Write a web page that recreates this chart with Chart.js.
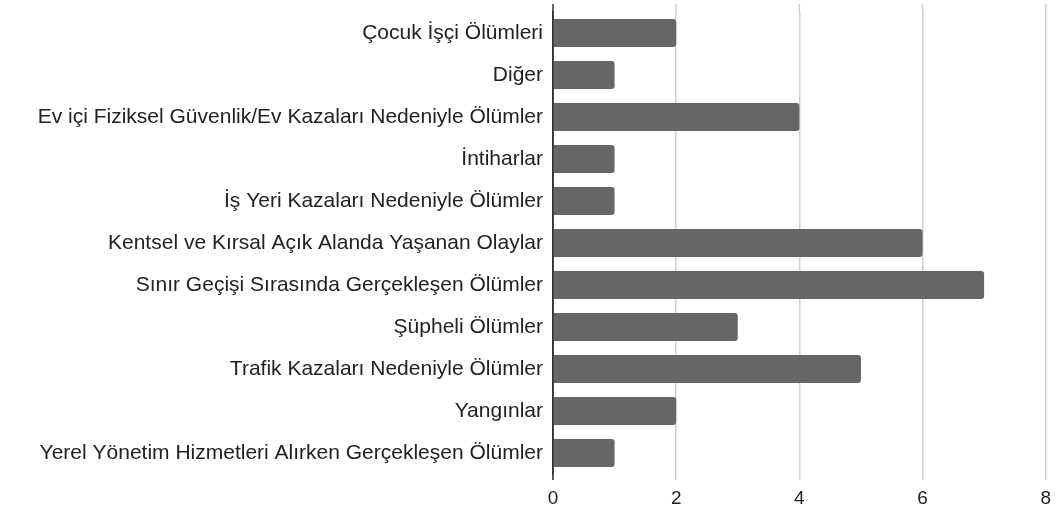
<!DOCTYPE html>
<html>
<head>
<meta charset="utf-8">
<script src="https://cdn.jsdelivr.net/npm/chart.js@4/dist/chart.umd.min.js"></script>
<style>
  html, body { margin: 0; padding: 0; background: #fff; }
  #wrap { width: 1058px; height: 508px; position: relative; }
</style>
</head>
<body>
<div id="wrap"><canvas id="c"></canvas></div>
<script>
const categories = [
  "Çocuk İşçi Ölümleri",
  "Diğer",
  "Ev içi Fiziksel Güvenlik/Ev Kazaları Nedeniyle Ölümler",
  "İntiharlar",
  "İş Yeri Kazaları Nedeniyle Ölümler",
  "Kentsel ve Kırsal Açık Alanda Yaşanan Olaylar",
  "Sınır Geçişi Sırasında Gerçekleşen Ölümler",
  "Şüpheli Ölümler",
  "Trafik Kazaları Nedeniyle Ölümler",
  "Yangınlar",
  "Yerel Yönetim Hizmetleri Alırken Gerçekleşen Ölümler"
];
const values = [2, 1, 4, 1, 1, 6, 7, 3, 5, 2, 1];
const xTicks = [0, 2, 4, 6, 8];

const FONT = "'Liberation Sans', Arial, sans-serif";
const GRID = '#d0d0d0';

const extendGrid = {
  id: 'extendGrid',
  beforeDatasetsDraw(chart) {
    const { ctx, chartArea, scales } = chart;
    const ext = 8;
    ctx.save();
    ctx.lineWidth = 1.5;
    ctx.strokeStyle = GRID;
    xTicks.forEach(v => {
      if (v === 0) return;
      const x = scales.x.getPixelForValue(v);
      ctx.beginPath();
      ctx.moveTo(x, chartArea.top - ext);
      ctx.lineTo(x, chartArea.top);
      ctx.stroke();
    });
    ctx.restore();
  },
  afterDraw(chart) {
    const { ctx, chartArea, scales } = chart;
    const x = scales.x.getPixelForValue(0);
    ctx.save();
    ctx.lineWidth = 1.5;
    ctx.strokeStyle = '#333333';
    ctx.beginPath();
    ctx.moveTo(x, chartArea.top - 8);
    ctx.lineTo(x, chartArea.bottom + 6);
    ctx.stroke();
    ctx.restore();
  }
};

new Chart(document.getElementById('c'), {
  type: 'bar',
  data: {
    labels: categories,
    datasets: [{
      data: values,
      backgroundColor: '#666666',
      borderRadius: 3,
      borderSkipped: 'start',
      barPercentage: 0.667,
      categoryPercentage: 1.0
    }]
  },
  options: {
    indexAxis: 'y',
    responsive: true,
    maintainAspectRatio: false,
    animation: false,
    layout: { padding: { top: 12, right: 8, left: 10, bottom: 0 } },
    plugins: { legend: { display: false }, tooltip: { enabled: false } },
    scales: {
      x: {
        type: 'linear',
        min: 0,
        max: 8,
        afterBuildTicks(scale) { scale.ticks = xTicks.map(v => ({ value: v })); },
        afterFit(scale) { scale.height = 34; },
        grid: { color: GRID, lineWidth: 1.5, tickLength: 6, drawTicks: true },
        border: { display: false },
        ticks: { color: '#222222', font: { family: FONT, size: 19 }, padding: 7 }
      },
      y: {
        afterFit(scale) { scale.width = 543; scale.paddingTop = 0; scale.paddingBottom = 0; },
        grid: { display: false },
        border: { display: true, color: '#333333', width: 1.5 },
        ticks: { color: '#222222', font: { family: FONT, size: 21 }, padding: 2, autoSkip: false }
      }
    }
  },
  plugins: [extendGrid]
});
</script>
</body>
</html>
